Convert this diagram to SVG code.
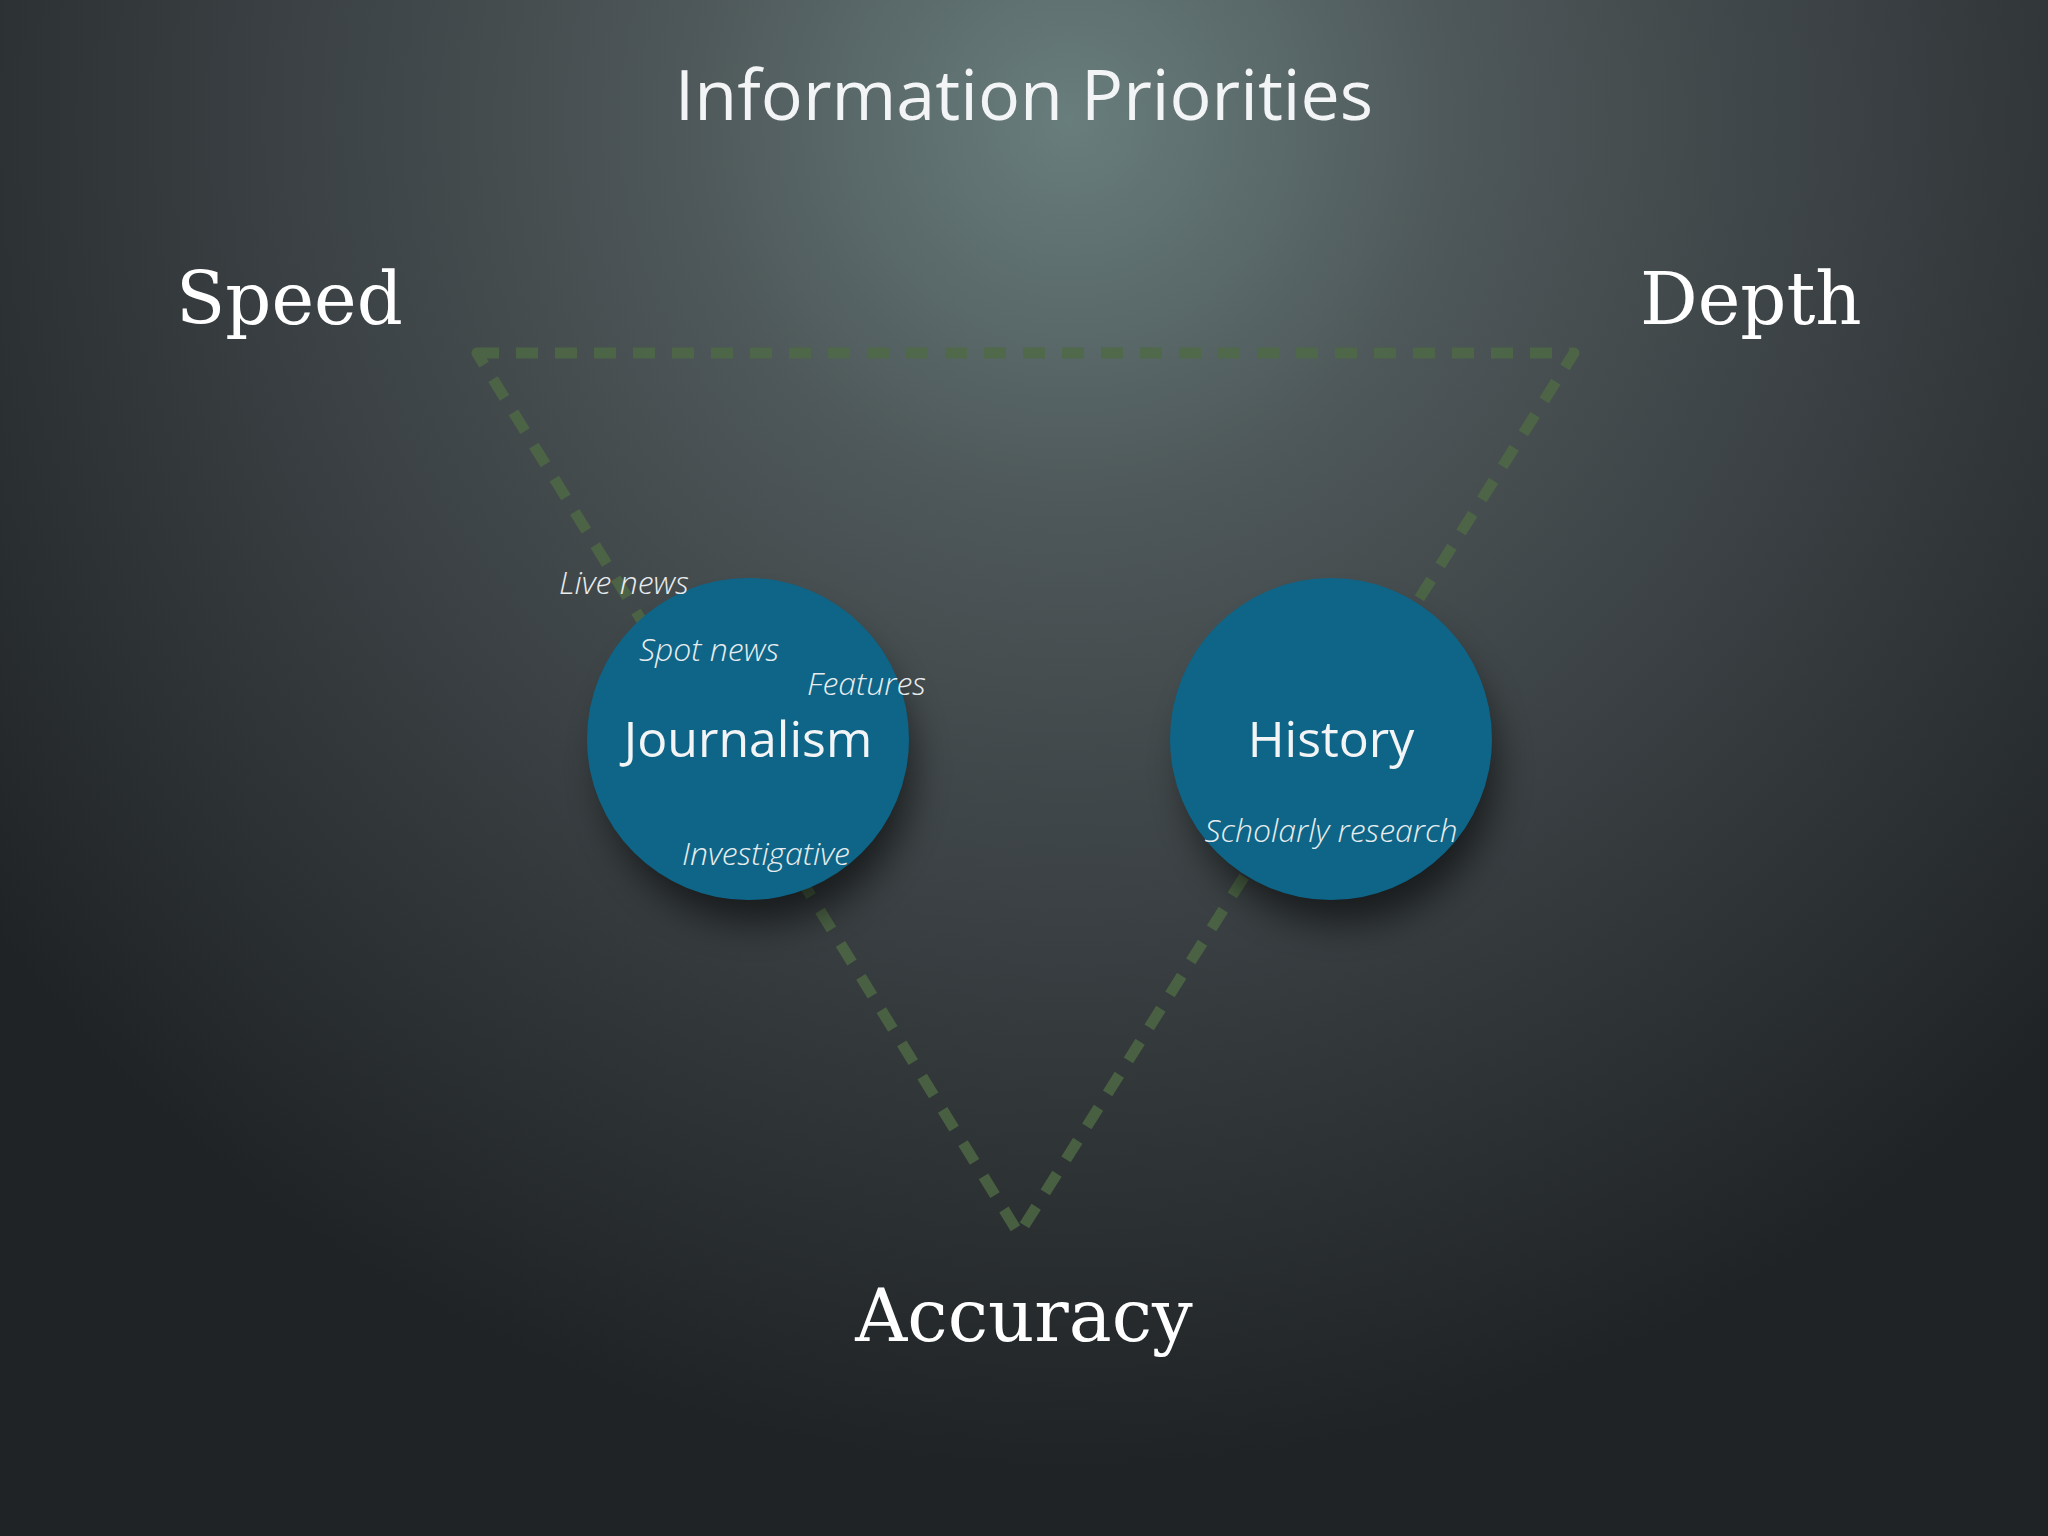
<svg xmlns="http://www.w3.org/2000/svg" width="2048" height="1536" viewBox="0 0 2048 1536">
<defs>
<radialGradient id="bg" cx="1070" cy="120" r="1350" gradientUnits="userSpaceOnUse">
<stop offset="0" stop-color="#687e7c"/>
<stop offset="0.3" stop-color="#4d5658"/>
<stop offset="0.7" stop-color="#33383b"/>
<stop offset="1" stop-color="#1f2326"/>
</radialGradient>
<filter id="sh" x="-50%" y="-50%" width="200%" height="200%"><feGaussianBlur stdDeviation="18"/></filter>
<style>
.ax{font-family:"DejaVu Serif","Liberation Serif",serif;font-size:72px;fill:#fff;}
.lbl{font-family:"Open Sans","Liberation Sans",sans-serif;fill:#f2f4f5;}
.sm{font-family:"Open Sans","Liberation Sans",sans-serif;font-style:italic;font-size:32px;fill:#e8ecee;font-weight:300;}
.circ{fill:#0e6587;}
</style>
</defs>
<rect width="2048" height="1536" fill="url(#bg)"/>
<text x="1024" y="120" text-anchor="middle" class="lbl" font-size="70">Information Priorities</text>
<text x="176" y="324" class="ax">Speed</text>
<text x="1640" y="324" class="ax">Depth</text>
<text x="1024" y="1341" text-anchor="middle" class="ax">Accuracy</text>
<g id="connectors">
<polygon points="477,353 1574,353 1019,1234" fill="none" stroke="#4f6a45" stroke-opacity="0.8" stroke-width="11" stroke-dasharray="22 17" stroke-linejoin="round"/>
</g>
<g id="journalism">
<circle cx="758" cy="768" r="155" fill="#000" opacity="0.55" filter="url(#sh)"/>
<circle cx="748" cy="739" r="161" class="circ"/>
<text x="748" y="757" text-anchor="middle" class="lbl" font-size="50">Journalism</text>
<text x="559" y="594" class="sm">Live news</text>
<text x="639" y="661" class="sm">Spot news</text>
<text x="807" y="695" class="sm">Features</text>
<text x="682" y="865" class="sm">Investigative</text>
</g>
<g id="history">
<circle cx="1341" cy="768" r="155" fill="#000" opacity="0.55" filter="url(#sh)"/>
<circle cx="1331" cy="739" r="161" class="circ"/>
<text x="1331" y="757" text-anchor="middle" class="lbl" font-size="50">History</text>
<text x="1331" y="842" text-anchor="middle" class="sm">Scholarly research</text>
</g>
</svg>
